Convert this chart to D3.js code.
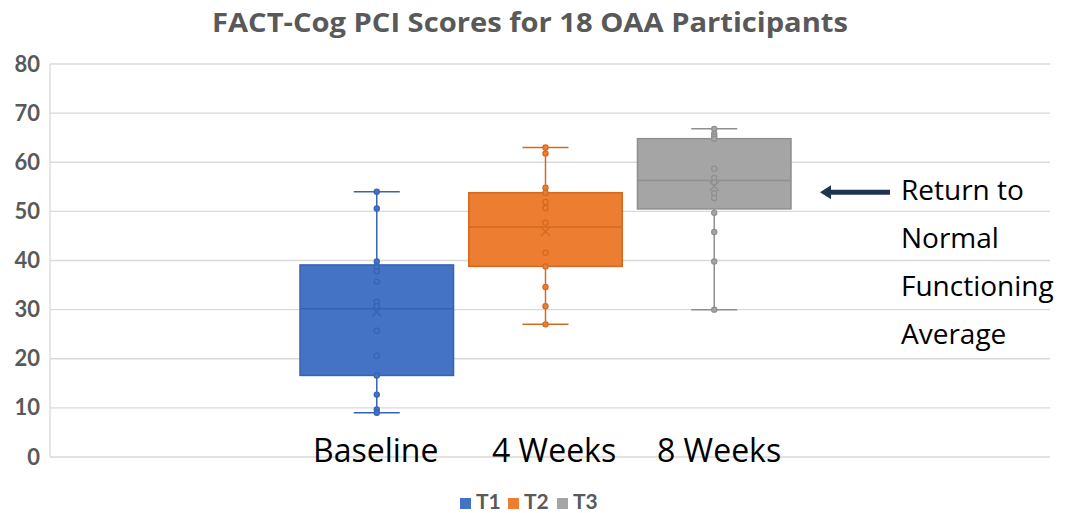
<!DOCTYPE html>
<html>
<head>
<meta charset="utf-8">
<script src="https://d3js.org/d3.v7.min.js"></script>
<style>
  html, body { margin: 0; padding: 0; background: #fff; }
  svg { display: block; }
</style>
</head>
<body>
<svg id="chart" width="1084" height="513"></svg>
<script>
// Series and time points
const series = ["T1", "T2", "T3"];
const timeLabels = ["Baseline", "4 Weeks", "8 Weeks"];
const colors = ["#4472C4", "#ED7D31", "#A5A5A5"];
const strokeColors = ["#3863B4", "#D46A22", "#8F8F8F"];

// Box statistics per series
const whiskerMin = [9, 27, 30];
const quartile1 = [16.6, 38.8, 50.5];
const medians = [30.2, 46.8, 56.3];
const quartile3 = [39.1, 53.8, 64.8];
const whiskerMax = [54, 63, 66.8];
const means = [29.5, 45.9, 55.1];

// Individual participant scores (shown as points)
const pointsT1 = [54, 50.6, 39.8, 38.7, 37.8, 35.7, 31.6, 30.7, 25.7, 20.6, 16.6, 12.7, 9.7, 9];
const pointsT2 = [63, 61.8, 54.8, 53.8, 51.9, 50.7, 47.7, 41.6, 38.8, 34.6, 30.7, 27];
const pointsT3 = [66.8, 65.8, 65.3, 64.8, 58.7, 56.8, 55.9, 53.7, 52.7, 49.7, 45.8, 39.8, 30];
const points = [pointsT1, pointsT2, pointsT3];

// Axis ticks
const yTicks = [0, 10, 20, 30, 40, 50, 60, 70, 80];

const annotationLines = ["Return to", "Normal", "Functioning", "Average"];
const annotationValue = 53.9;

const svg = d3.select("#chart");
const plot = { left: 50, right: 1050, top: 64, bottom: 457 };

const y = d3.scaleLinear().domain([0, 80]).range([plot.bottom, plot.top]);
const x = d3.scaleBand().domain(series).range([300, 791]).paddingInner(0.09).paddingOuter(0);

const boldFont = "Lato, 'Open Sans', sans-serif";
const textFont = "'Open Sans', sans-serif";

// Title
svg.append("text")
  .attr("x", 212).attr("y", 32)
  .attr("font-family", textFont)
  .attr("font-weight", "bold")
  .attr("font-size", 26)
  .attr("textLength", 636)
  .attr("lengthAdjust", "spacingAndGlyphs")
  .attr("fill", "#595959")
  .text("FACT-Cog PCI Scores for 18 OAA Participants");

// Gridlines
svg.append("g").selectAll("line").data(yTicks).join("line")
  .attr("x1", plot.left).attr("x2", plot.right)
  .attr("y1", d => y(d)).attr("y2", d => y(d))
  .attr("stroke", "#D9D9D9").attr("stroke-width", 1.3);

svg.append("line")
  .attr("x1", plot.left).attr("x2", plot.left)
  .attr("y1", y(80)).attr("y2", y(0))
  .attr("stroke", "#D9D9D9").attr("stroke-width", 1.3);

// Y axis labels
const yAxis = d3.axisLeft(y).tickValues(yTicks).tickSize(0).tickPadding(9);
const gy = svg.append("g").attr("transform", `translate(${plot.left - 1},0)`).call(yAxis);
gy.select(".domain").remove();
gy.selectAll("text")
  .attr("font-family", boldFont)
  .attr("font-weight", "bold")
  .attr("font-size", 22)
  .attr("fill", "#595959");

// Boxes
const boxes = svg.append("g");
series.forEach((s, i) => {
  const x0 = x(s), bw = x.bandwidth(), cx = x0 + bw / 2;
  const g = boxes.append("g");
  const capW = 46;
  // whiskers
  g.append("line").attr("x1", cx).attr("x2", cx)
    .attr("y1", y(whiskerMax[i])).attr("y2", y(quartile3[i]))
    .attr("stroke", strokeColors[i]).attr("stroke-width", 1.5);
  g.append("line").attr("x1", cx).attr("x2", cx)
    .attr("y1", y(quartile1[i])).attr("y2", y(whiskerMin[i]))
    .attr("stroke", strokeColors[i]).attr("stroke-width", 1.5);
  [whiskerMax[i], whiskerMin[i]].forEach(v => {
    g.append("line").attr("x1", cx - capW / 2).attr("x2", cx + capW / 2)
      .attr("y1", y(v)).attr("y2", y(v))
      .attr("stroke", strokeColors[i]).attr("stroke-width", 1.5);
  });
  // box
  g.append("rect")
    .attr("x", x0).attr("width", bw)
    .attr("y", y(quartile3[i])).attr("height", y(quartile1[i]) - y(quartile3[i]))
    .attr("fill", colors[i]).attr("stroke", strokeColors[i]).attr("stroke-width", 1.5);
  // median
  g.append("line").attr("x1", x0).attr("x2", x0 + bw)
    .attr("y1", y(medians[i])).attr("y2", y(medians[i]))
    .attr("stroke", strokeColors[i]).attr("stroke-width", 1.5);
  // points
  g.selectAll("circle").data(points[i]).join("circle")
    .attr("cx", cx).attr("cy", d => y(d)).attr("r", 2.6)
    .attr("fill", colors[i]).attr("stroke", strokeColors[i]).attr("stroke-width", 1.2);
  // mean marker
  const my = y(means[i]), m = 4.5;
  g.append("path")
    .attr("d", `M${cx - m},${my - m}L${cx + m},${my + m}M${cx - m},${my + m}L${cx + m},${my - m}`)
    .attr("stroke", strokeColors[i]).attr("stroke-width", 1.3).attr("fill", "none");
});

// Time point labels placed over the boxes' baseline
const labelX = [313, 492, 657];
svg.append("g").selectAll("text").data(timeLabels).join("text")
  .attr("x", (d, i) => labelX[i])
  .attr("y", 462)
  .attr("font-family", textFont)
  .attr("font-size", 32)
  .attr("fill", "#000")
  .text(d => d);

// Annotation arrow and text
const ay = y(annotationValue);
svg.append("line")
  .attr("x1", 890).attr("x2", 828)
  .attr("y1", ay).attr("y2", ay)
  .attr("stroke", "#1F3450").attr("stroke-width", 5);
svg.append("path")
  .attr("d", `M820,${ay}L831,${ay - 7}L831,${ay + 7}Z`)
  .attr("fill", "#1F3450");

svg.append("g").selectAll("text").data(annotationLines).join("text")
  .attr("x", 901)
  .attr("y", (d, i) => 199.5 + i * 48.3)
  .attr("font-family", textFont)
  .attr("font-size", 28)
  .attr("fill", "#000")
  .text(d => d);

// Legend
const legend = svg.append("g");
const legendX = [460, 508, 557];
series.forEach((s, i) => {
  legend.append("rect")
    .attr("x", legendX[i]).attr("y", 498).attr("width", 11).attr("height", 11)
    .attr("fill", colors[i]);
  legend.append("text")
    .attr("x", legendX[i] + 16).attr("y", 509)
    .attr("font-family", boldFont)
    .attr("font-weight", "bold")
    .attr("font-size", 21)
    .attr("fill", "#595959")
    .text(s);
});
</script>
</body>
</html>
